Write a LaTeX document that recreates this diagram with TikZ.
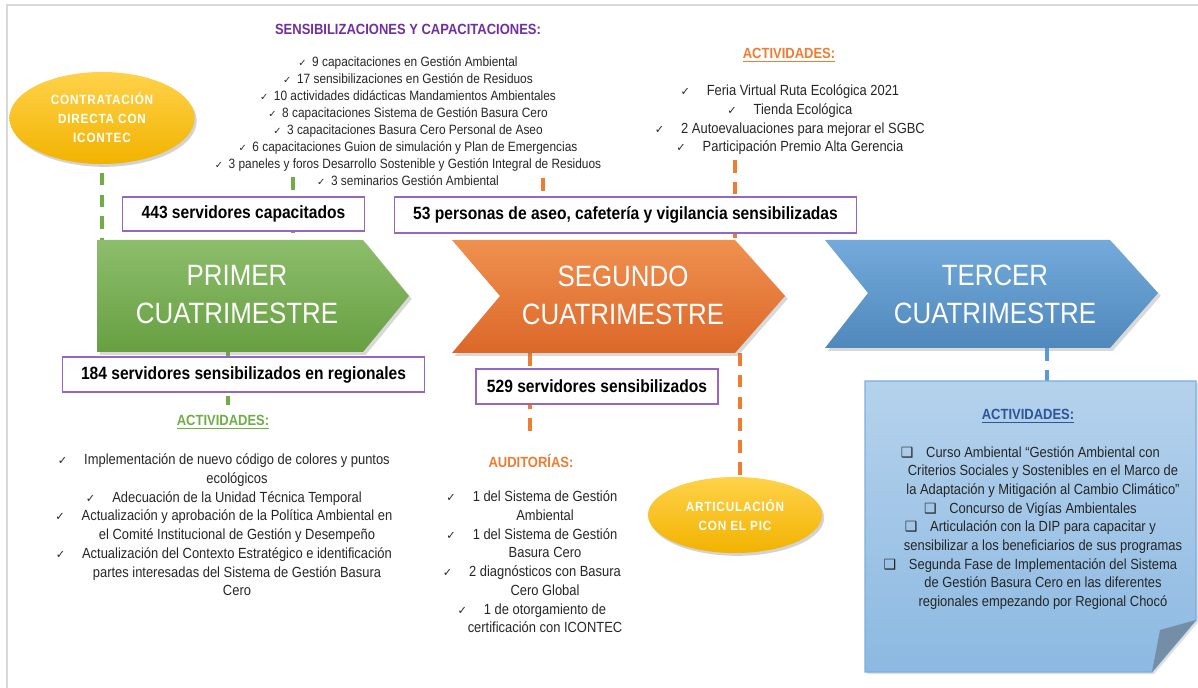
\documentclass[tikz,border=0pt]{standalone}
\usepackage{fontspec}
\setmainfont[FakeStretch=0.88]{Liberation Sans}
\newfontfamily\symfnt{DejaVu Sans}
\usetikzlibrary{shapes.geometric,shadows}

\definecolor{framegray}{HTML}{D9D9D9}
\definecolor{titlepurple}{HTML}{7030A0}
\definecolor{boxpurple}{HTML}{9467C4}
\definecolor{grn}{HTML}{70AD47}
\definecolor{org}{HTML}{ED7D31}
\definecolor{blu}{HTML}{5B9BD5}
\definecolor{darkblu}{HTML}{2F5597}
\definecolor{txtgray}{HTML}{262626}
\definecolor{goldtop}{HTML}{FFD24A}
\definecolor{goldbot}{HTML}{F2B300}

\newcommand{\chk}{{\symfnt\fontsize{7}{7}\selectfont ✓}}
\newcommand{\hchk}{\llap{{\symfnt\fontsize{8}{8}\selectfont ✓}\hspace{12pt}}}
\newcommand{\hsq}{\llap{{\symfnt\fontsize{10}{8}\selectfont ❑}\hspace{9pt}}}

\begin{document}
\begin{tikzpicture}[x=0.025cm,y=-0.025cm,
  head/.style={font=\bfseries\fontsize{10.5}{12}\selectfont},
  toplist/.style={align=center,text=txtgray,font=\fontsize{9.6}{12.1}\selectfont},
  botlist/.style={align=center,text=txtgray,font=\fontsize{10.45}{13.3}\selectfont},
  countbox/.style={draw=boxpurple,fill=white,line width=0.8pt,inner sep=0pt,
    font=\bfseries\fontsize{12.6}{14}\selectfont},
  phase/.style={align=center,text=white,font=\fontsize{20.9}{27}\selectfont},
  pill/.style={ellipse,inner sep=0pt,top color=goldtop,bottom color=goldbot,
    drop shadow={opacity=0.35,shadow xshift=1.5pt,shadow yshift=-2pt},
    align=center,text=white,font=\bfseries\fontsize{9.5}{13.5}\selectfont\addfontfeature{LetterSpace=6}},
  link/.style={line width=2.5pt,dash pattern=on 9pt off 6.5pt}]

\useasboundingbox (0,0) rectangle (1198,688);

% page frame:
\draw[framegray,line width=1.4pt] (7,688) -- (7,5) -- (1198,5);

% connector ends:
\coordinate (g1top) at (102,240);
\coordinate (l1end) at (293,177);
\coordinate (g2top) at (293,240);
\coordinate (g2bot) at (228,352);
\coordinate (actGtop) at (228,405);
\coordinate (l2end) at (543,178);
\coordinate (o1top) at (543,240);
\coordinate (l3end) at (735,160);
\coordinate (o2top) at (735,262);
\coordinate (o1bot) at (530,353);
\coordinate (audtop) at (530,436);
\coordinate (o2bot) at (740,353);
\coordinate (pictop) at (740,478);
\coordinate (b1bot) at (1047,348);
\coordinate (notetop) at (1047,381);

% ovals:
\node[pill,minimum width=4.63cm,minimum height=2.3cm] (contr) at (102,118) {CONTRATACIÓN\\DIRECTA CON\\ICONTEC};
\node[pill,minimum width=4.35cm,minimum height=1.9cm] (pic) at (735,515) {ARTICULACIÓN\\CON EL PIC};

% dashed links:
\draw[link,grn] ([yshift=-6pt]contr.south) -- (g1top);
\draw[link,grn] (l1end) -- (g2top);
\draw[link,grn] (g2bot) -- (actGtop);
\draw[link,org] (l2end) -- (o1top);
\draw[link,org] (l3end) -- (o2top);
\draw[link,org] (o1bot) -- (audtop);
\draw[link,org] (o2bot) -- (pictop);
\draw[link,blu] (b1bot) -- (notetop);

% chevrons:
\path[top color=grn!80!white,bottom color=grn!92!black,drop shadow={opacity=0.3,shadow xshift=2pt,shadow yshift=-2pt}]
  (97,240) -- (363,240) -- (409,296) -- (363,352) -- (97,352) -- cycle;
\path[top color=org!85!white,bottom color=org!90!red!92!black,drop shadow={opacity=0.3,shadow xshift=2pt,shadow yshift=-2pt}]
  (452,240) -- (735,240) -- (785,296) -- (735,353) -- (452,353) -- (500,296) -- cycle;
\path[top color=blu!85!white,bottom color=blu!88!black,drop shadow={opacity=0.3,shadow xshift=2pt,shadow yshift=-2pt}]
  (825,240) -- (1110,240) -- (1158,293) -- (1110,348) -- (825,348) -- (868,293) -- cycle;
\node[phase] (prim) at (237,295) {PRIMER\\CUATRIMESTRE};
\node[phase] (segu) at (623,295) {SEGUNDO\\CUATRIMESTRE};
\node[phase] (terc) at (995,294) {TERCER\\CUATRIMESTRE};

% count boxes:
\node[countbox,minimum width=6.03cm,minimum height=0.85cm] (b443) at (243.5,214) {443 servidores capacitados};
\node[countbox,minimum width=11.53cm,minimum height=0.9cm] (b53) at (625.5,215) {53 personas de aseo, cafetería y vigilancia sensibilizadas};
\node[countbox,minimum width=9.03cm,minimum height=0.875cm] (b184) at (243.5,374.5) {184 servidores sensibilizados en regionales};
\node[countbox,minimum width=6.05cm,minimum height=0.875cm] (b529) at (597,386.5) {529 servidores sensibilizados};

% note of the third term:
\path[top color=blu!45!white,bottom color=blu!70!white,draw=blu!80!white,line width=0.8pt,
  drop shadow={opacity=0.25,shadow xshift=1.5pt,shadow yshift=-1.5pt}]
  (865,381) -- (1196,381) -- (1196,620) -- (1152,672) -- (865,672) -- cycle;
\fill[blu!60!black!70!white] (1196,620) -- (1160,630) -- (1152,672) -- cycle;

% headings:
\node[head,titlepurple] (sensT) at (408,29) {SENSIBILIZACIONES Y CAPACITACIONES:};
\node[head,org] (actO) at (789,55) {\underline{ACTIVIDADES:}};
\node[head,grn] (actG) at (223,422) {\underline{ACTIVIDADES:}};
\node[head,org] (audT) at (531,461) {AUDITORÍAS:};
\node[head,darkblu] (actB) at (1028,416) {\underline{ACTIVIDADES:}};

% lists:
\node[toplist] (sensL) at (408,121) {\chk\hspace{4pt}9 capacitaciones en Gestión Ambiental\\
  \chk\hspace{4pt}17 sensibilizaciones en Gestión de Residuos\\
  \chk\hspace{4pt}10 actividades didácticas Mandamientos Ambientales\\
  \chk\hspace{4pt}8 capacitaciones Sistema de Gestión Basura Cero\\
  \chk\hspace{4pt}3 capacitaciones Basura Cero Personal de Aseo\\
  \chk\hspace{4pt}6 capacitaciones Guion de simulación y Plan de Emergencias\\
  \chk\hspace{4pt}3 paneles y foros Desarrollo Sostenible y Gestión Integral de Residuos\\
  \chk\hspace{4pt}3 seminarios Gestión Ambiental};
\node[botlist] (actOL) at (803,120) {\hchk Feria Virtual Ruta Ecológica 2021\\
  \hchk Tienda Ecológica\\
  \hchk 2 Autoevaluaciones para mejorar el SGBC\\
  \hchk Participación Premio Alta Gerencia};
\node[botlist] (actGL) at (237,525) {\hchk Implementación de nuevo código de colores y puntos\\
  ecológicos\\
  \hchk Adecuación de la Unidad Técnica Temporal\\
  \hchk Actualización y aprobación de la Política Ambiental en\\
  el Comité Institucional de Gestión y Desempeño\\
  \hchk Actualización del Contexto Estratégico e identificación\\
  partes interesadas del Sistema de Gestión Basura\\
  Cero};
\node[botlist] (audL) at (545,562) {\hchk 1 del Sistema de Gestión\\
  Ambiental\\
  \hchk 1 del Sistema de Gestión\\
  Basura Cero\\
  \hchk 2 diagnósticos con Basura\\
  Cero Global\\
  \hchk 1 de otorgamiento de\\
  certificación con ICONTEC};
\node[botlist] (actBL) at (1043,528) {\hsq Curso Ambiental “Gestión Ambiental con\\
  Criterios Sociales y Sostenibles en el Marco de\\
  la Adaptación y Mitigación al Cambio Climático”\\
  \hsq Concurso de Vigías Ambientales\\
  \hsq Articulación con la DIP para capacitar y\\
  sensibilizar a los beneficiarios de sus programas\\
  \hsq Segunda Fase de Implementación del Sistema\\
  de Gestión Basura Cero en las diferentes\\
  regionales empezando por Regional Chocó};

\end{tikzpicture}
\end{document}
